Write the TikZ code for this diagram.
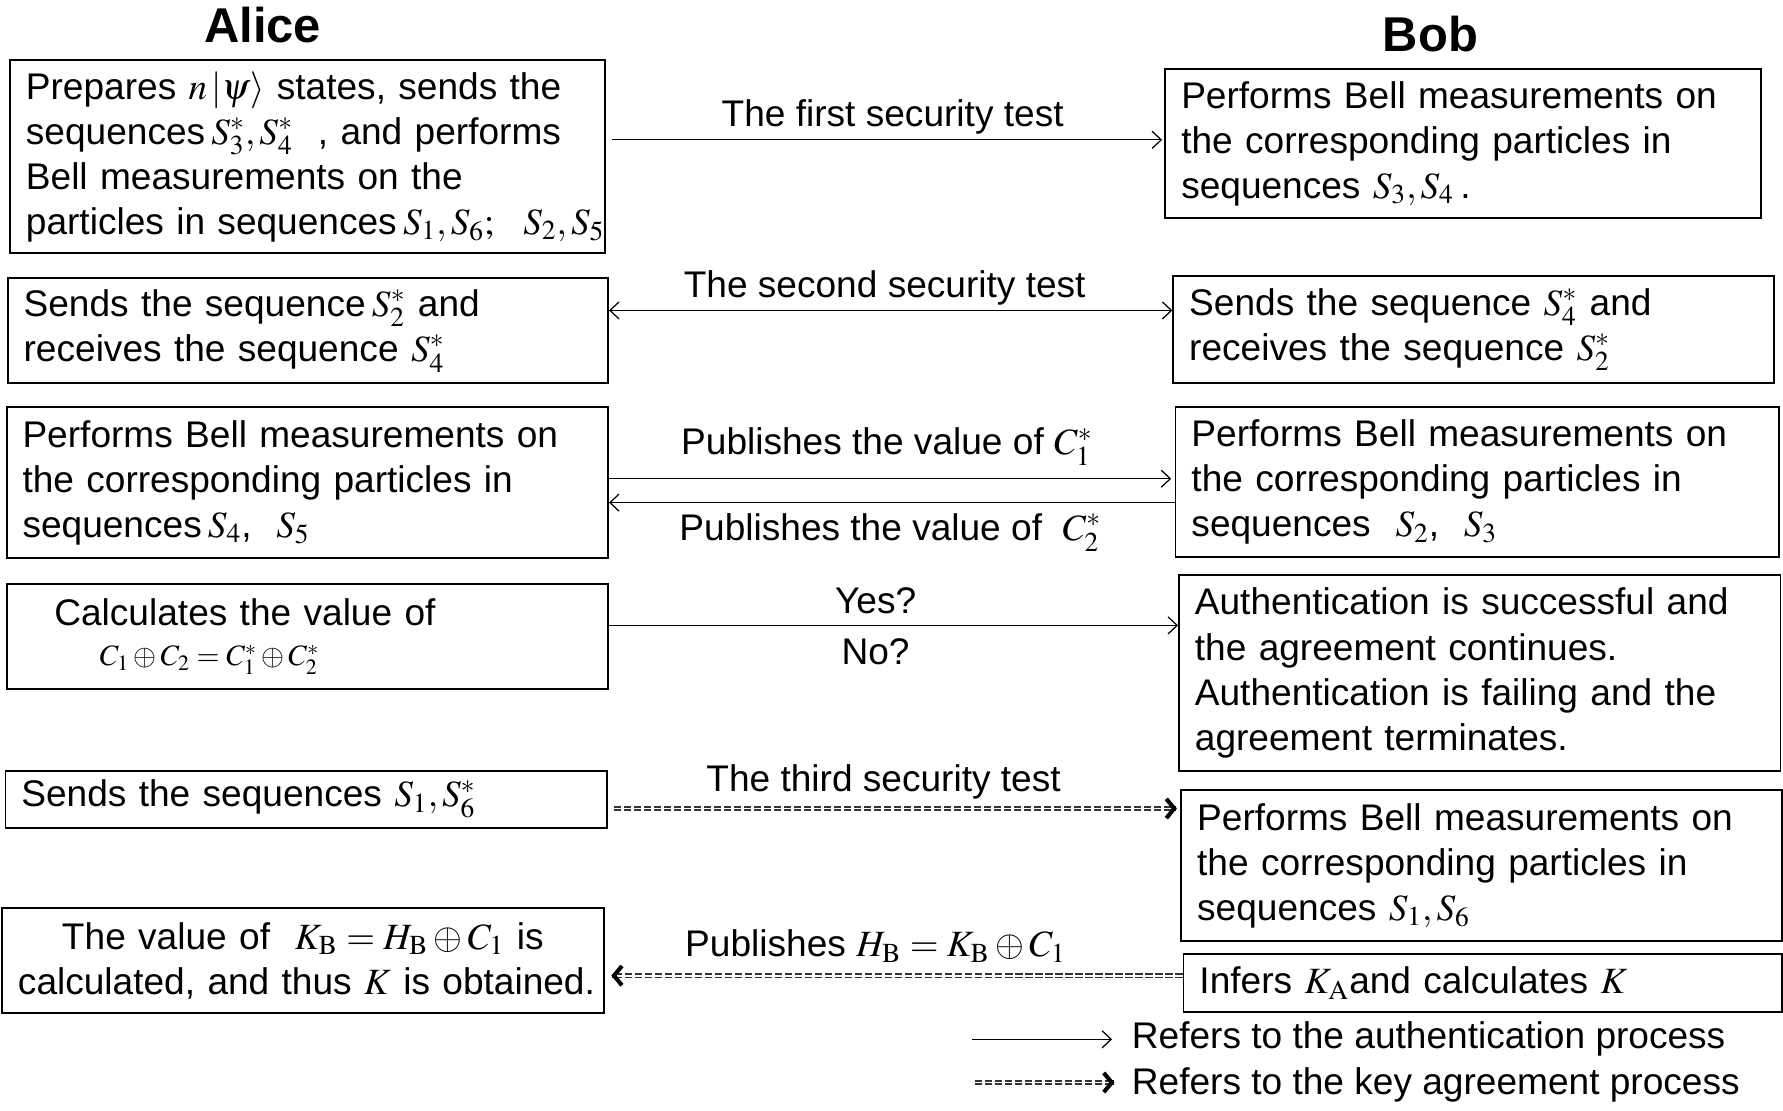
\documentclass[tikz,border=0pt]{standalone}
\usepackage{mathptmx}
\usepackage[no-math]{fontspec}
\setmainfont{Liberation Sans}
\usetikzlibrary{arrows.meta,calc}
\newcommand{\fsz}{\fontsize{16.3}{19.8}\selectfont}
\newcommand{\ttlsz}{\fontsize{21.5}{24}\selectfont\bfseries}
\begin{document}
\begin{tikzpicture}[x=0.5pt,y=-0.5pt,
  every node/.style={font=\fsz, inner sep=0pt},
  box/.style={draw, line width=0.8pt, inner xsep=7pt, inner ysep=0pt, align=left, anchor=north west},
  title/.style={font=\ttlsz},
  lbl/.style={font=\fsz},
  auth/.style={line width=0.55pt, -{Straight Barb[length=4pt,width=7.5pt]}},
  authboth/.style={line width=0.55pt, {Straight Barb[length=4pt,width=7.5pt]}-{Straight Barb[length=4pt,width=7.5pt]}},
  keyline/.style={draw=black!80, line width=0.7pt, double=white, double distance=0.8pt, dash pattern=on 3.2pt off 1.2pt},
  keytip/.style={line width=1.8pt, -{Straight Barb[length=3.5pt,width=8.5pt]}}
]
\useasboundingbox (0,0) rectangle (1568,977);

% titles
\node[title] (alice) at (231,22) {Alice};
\node[title] (bob) at (1258,30) {Bob};

% Alice boxes
\node[box, text width=247.5pt, minimum height=85pt] (A1) at (8,52)
  {Prepares $n\,|\psi\rangle$ states, sends the\\
   sequences\,$S_3^*,S_4^*$\ \ , and performs\\
   Bell measurements on the\\
   \mbox{particles in sequences\,$S_1,S_6;\ \ S_2,S_5$}};
\node[box, text width=250pt, minimum height=46pt] (A2) at (6,244)
  {Sends the sequence\,$S_2^*$ and\\
   receives the sequence $S_4^*$};
\node[box, text width=250.5pt, minimum height=66.5pt] (A3) at (5,357)
  {Performs Bell measurements on\\
   the corresponding particles in\\
   sequences\,$S_4$,\ \ $S_5$};
\node[box, text width=250.5pt, minimum height=46pt] (A4) at (5,513)
  {\hspace*{14pt}Calculates the value of\\[-2pt]
   \hspace*{34pt}{\fontsize{13}{14}\selectfont$C_1\oplus C_2=C_1^*\oplus C_2^*$}};
\node[box, text width=250.5pt, minimum height=25pt] (A5) at (4,677)
  {Sends the sequences $S_1,S_6^*$};
\node[box, text width=250.5pt, minimum height=46pt, align=center] (A6) at (1,798)
  {\mbox{The value of\ \ $K_{\mathrm{B}}=H_{\mathrm{B}}\oplus C_1$\ is}\\
   \mbox{calculated, and thus $K$ is obtained.}};

% Bob boxes
\node[box, text width=248pt, minimum height=65.5pt] (B1) at (1024,60)
  {Performs Bell measurements on\\
   the corresponding particles in\\
   sequences $S_3,S_4$\,.};
\node[box, text width=250pt, minimum height=47pt] (B2) at (1031,242)
  {Sends the sequence $S_4^*$ and\\
   receives the sequence $S_2^*$};
\node[box, text width=251.5pt, minimum height=66pt] (B3) at (1033,357)
  {Performs Bell measurements on\\
   the corresponding particles in\\
   sequences\ \ $S_2$,\ \ $S_3$};
\node[box, text width=250.5pt, minimum height=86pt] (B4) at (1036,505)
  {Authentication is successful and\\
   the agreement continues.\\
   Authentication is failing and the\\
   agreement terminates.};
\node[box, text width=250pt, minimum height=66.5pt] (B5) at (1038,694)
  {Performs Bell measurements on\\
   the corresponding particles in\\
   sequences $S_1,S_6$};
\node[box, text width=249pt, minimum height=25.5pt] (B6) at (1040,838)
  {Infers $K_{\mathrm{A}}$and calculates $K$};

% arrow levels
\coordinate (y1) at (0,123);
\coordinate (y2) at (0,273);
\coordinate (y3a) at (0,421);
\coordinate (y3b) at (0,442);
\coordinate (y4) at (0,550);
\coordinate (y5) at (0,711);
\coordinate (y6) at (0,858);

% authentication arrows
\draw[auth, shorten <=3pt, shorten >=1pt] (A1.east |- y1) -- (B1.west |- y1);
\node[lbl] (t1) at (785,103) {The first security test};
\draw[authboth] (A2.east |- y2) -- (B2.west |- y2);
\node[lbl] (t2) at (778,253) {The second security test};
\draw[auth, shorten >=1.5pt] (A3.east |- y3a) -- (B3.west |- y3a);
\node[lbl] (t3a) at (780,393) {Publishes the value of $C_1^*$};
\draw[auth] (B3.west |- y3b) -- (A3.east |- y3b);
\node[lbl] (t3b) at (783,468) {Publishes the value of\ \ $C_2^*$};
\draw[auth] (A4.east |- y4) -- (B4.west |- y4);
\node[lbl] (t4a) at (770,528) {Yes?};
\node[lbl] (t4b) at (770,573) {No?};

% key agreement arrows
\coordinate (k5s) at ($(A5.east |- y5)+(2.5pt,0)$);
\coordinate (k5e) at ($(B5.west |- y5)+(-1.5pt,0)$);
\draw[keyline, shorten >=2pt] (k5s) -- (k5e);
\draw[keytip] ($(k5e)+(-0.3pt,0)$) -- (k5e);
\node[lbl] (t5) at (777,688) {The third security test};

\coordinate (k6s) at (B6.west |- y6);
\coordinate (k6e) at ($(A6.east |- y6)+(3pt,0)$);
\draw[keyline, shorten >=2pt] (k6s) -- (k6e);
\draw[keytip] ($(k6e)+(0.3pt,0)$) -- (k6e);
\node[lbl] (t6) at (770,832) {Publishes $H_{\mathrm{B}}=K_{\mathrm{B}}\oplus C_1$};

% legend
\coordinate (L1a) at (855,914);
\coordinate (L1b) at (978,914);
\draw[auth] (L1a) -- (L1b);
\node[lbl, anchor=west] (LT1) at (995,914) {Refers to the authentication process};
\coordinate (L2a) at (857,952);
\coordinate (L2b) at (980,952);
\draw[keyline, shorten >=2pt] (L2a) -- (L2b);
\draw[keytip] ($(L2b)+(-0.3pt,0)$) -- (L2b);
\node[lbl, anchor=west] (LT2) at (995,954) {Refers to the key agreement process};
\end{tikzpicture}
\end{document}
